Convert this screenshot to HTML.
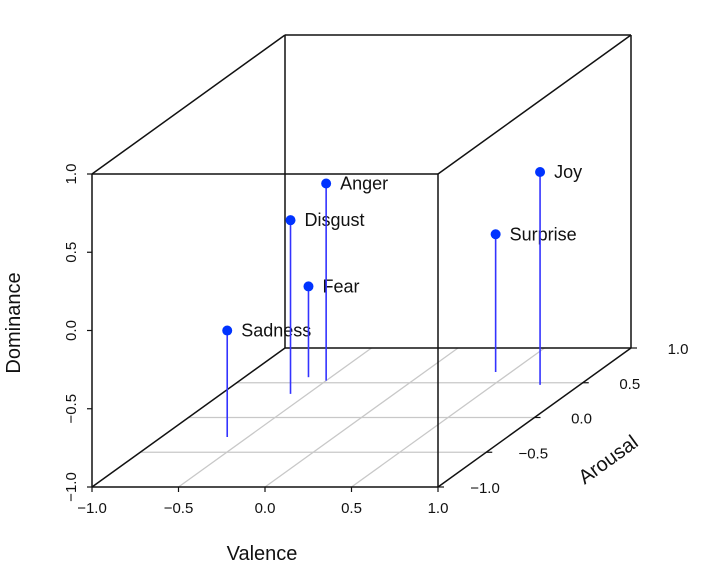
<!DOCTYPE html>
<html><head><meta charset="utf-8"><style>
body{margin:0;background:#fff}
svg{display:block;font-family:"Liberation Sans",sans-serif}
</style></head><body>
<svg id="c" width="704" height="581" viewBox="0 0 704 581"></svg>
<script>
const names=["Sadness","Disgust","Fear","Anger","Surprise","Joy"];
const valence=[-0.62,-0.6,-0.63,-0.5,0.41,0.77];
const arousal=[-0.28,0.34,0.58,0.53,0.655,0.47];
const dominance=[-0.32,0.11,-0.42,0.26,-0.12,0.36];
const ticks=[-1,-0.5,0,0.5,1];
const tickLabels=["\u22121.0","\u22120.5","0.0","0.5","1.0"];

const X0=92,W=346,Y0=487,H=313,DX=193,DY=139;
function px(v,a){return X0+(v+1)/2*W+(a+1)/2*DX;}
function py(d,a){return Y0-(d+1)/2*H-(a+1)/2*DY;}
const svg=document.getElementById('c');
const NS="http://www.w3.org/2000/svg";
function mk(t,at,txt){const e=document.createElementNS(NS,t);for(const k in at)e.setAttribute(k,at[k]);if(txt!=null)e.textContent=txt;svg.appendChild(e);return e;}
function line(x1,y1,x2,y2,col,w,name){const e=mk('line',{x1,y1,x2,y2,stroke:col,'stroke-width':w});

return e;}

// floor grid
[-0.5,0,0.5].forEach(a=>{line(px(-1,a),py(-1,a),px(1,a),py(-1,a),'#c8c8c8',1.3,'grid-arousal');});
[-0.5,0,0.5].forEach(v=>{line(px(v,-1),py(-1,-1),px(v,1),py(-1,1),'#c8c8c8',1.3,'grid-valence');});

// box
const k='#111';
const box=[[-1,-1,-1,1,-1,-1],[-1,1,-1,1,1,-1],[-1,-1,-1,-1,1,-1],[1,-1,-1,1,1,-1],
[-1,-1,1,1,-1,1],[-1,1,1,1,1,1],[-1,-1,1,-1,1,1],[1,-1,1,1,1,1],
[-1,-1,-1,-1,-1,1],[1,-1,-1,1,-1,1],[-1,1,-1,-1,1,1],[1,1,-1,1,1,1]];
// each: v1,a1,d1? use (v,d,a) order: [v1,d1,a1,v2,d2,a2] simplified below
const edges=[
[-1,-1,-1, 1,-1,-1],[-1,1,-1,1,1,-1],[-1,-1,-1,-1,1,-1],[1,-1,-1,1,1,-1],
[-1,-1,1,1,-1,1],[-1,1,1,1,1,1],[-1,-1,1,-1,1,1],[1,-1,1,1,1,1],
[-1,-1,-1,-1,-1,1],[1,-1,-1,1,-1,1],[-1,1,-1,-1,1,1],[1,1,-1,1,1,1]];
edges.forEach(e=>{line(px(e[0],e[2]),py(e[1],e[2]),px(e[3],e[5]),py(e[4],e[5]),k,1.5,'box-edge');});

// ticks & labels
ticks.forEach((t,i)=>{
 const x=px(t,-1);line(x,Y0,x,Y0+5,k,1.2,'x-tick');
 const tx=mk('text',{x:x,y:513,'text-anchor':'middle','font-size':15,fill:'#111'},tickLabels[i]);
 
 const y=py(t,-1);line(X0,y,X0-5,y,k,1.2,'y-tick');
 const ty=mk('text',{x:76,y:y,'text-anchor':'middle','font-size':15,fill:'#111',transform:`rotate(-90 76 ${y})`},tickLabels[i]);
 
 const ax=px(1,t),ay=py(-1,t);line(ax,ay,ax+6,ay,k,1.2,'z-tick');
 const tz=mk('text',{x:ax+47,y:ay+6,'text-anchor':'middle','font-size':15,fill:'#111'},tickLabels[i]);
 
});
let t=mk('text',{x:262,y:560,'text-anchor':'middle','font-size':20,fill:'#111'},'Valence');

t=mk('text',{x:20,y:323,'text-anchor':'middle','font-size':20,fill:'#111',transform:'rotate(-90 20 323)'},'Dominance');

t=mk('text',{x:612,y:465,'text-anchor':'middle','font-size':20,fill:'#111',transform:'rotate(-36 612 465)'},'Arousal');


// points
names.forEach((n,i)=>{
 const x=px(valence[i],arousal[i]),y=py(dominance[i],arousal[i]),yb=py(-1,arousal[i]);
 line(x,y,x,yb,'#3333ff',1.6,'stem-'+n.toLowerCase());
 const c=mk('circle',{cx:x,cy:y,r:5,fill:'#0033ff'});
 
 
 const l=mk('text',{x:x+14,y:y+6,'font-size':18,fill:'#111'},n);
 
 
});
</script>
</body></html>
